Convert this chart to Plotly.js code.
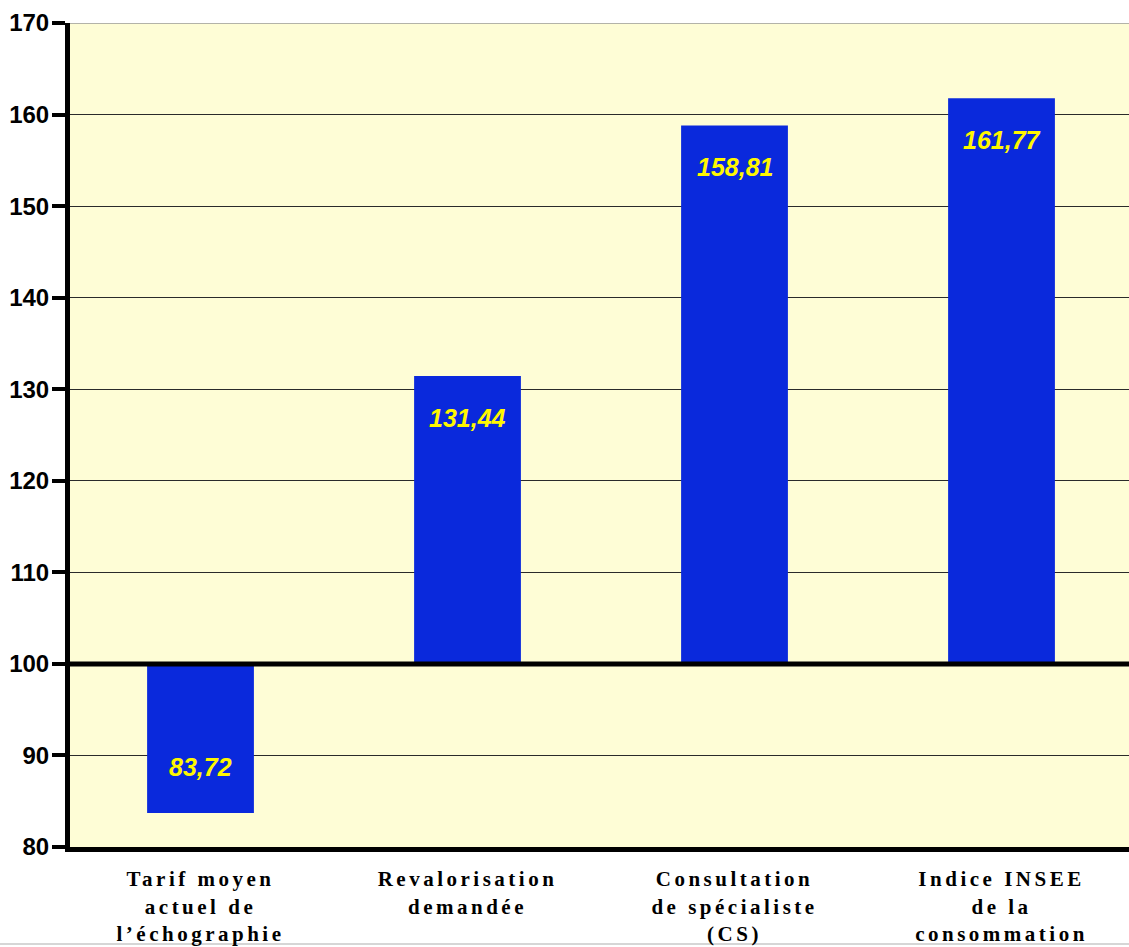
<!DOCTYPE html>
<html>
<head>
<meta charset="utf-8">
<script src="https://cdn.plot.ly/plotly-3.0.1.min.js"></script>
<style>
  html, body { margin: 0; padding: 0; background: #ffffff; }
  #chart { width: 1129px; height: 947px; }
  /* spaced-out serif category labels */
  .xtick text { letter-spacing: 3.5px; }
</style>
</head>
<body>
<div id="chart"></div>
<script>
// Category labels (three lines each) and index values, base 100
const categories = [
  "Tarif moyen<br>actuel de<br>l’échographie",
  "Revalorisation<br>demandée",
  "Consultation<br>de spécialiste<br>(CS)",
  "Indice INSEE<br>de la<br>consommation"
];
const values = [83.72, 131.44, 158.81, 161.77];
const baseline = 100;
const yTicks = [80, 90, 100, 110, 120, 130, 140, 150, 160, 170];

const xIdx = categories.map((_, i) => i);
const fmt = v => v.toFixed(2).replace(".", ",");

const bars = {
  type: "bar",
  x: xIdx,
  y: values.map(v => v - baseline),
  base: values.map(() => baseline),
  width: 0.4,
  marker: { color: "#0A29DC", line: { width: 0 } },
  hoverinfo: "skip"
};

// value labels sit inside each bar, near its free end
const labels = values.map((v, i) => ({
  x: i, y: v, xref: "x", yref: "y",
  text: fmt(v),
  showarrow: false,
  yshift: v >= baseline ? -42 : 46,
  font: { family: "Liberation Sans, Arial, sans-serif", size: 25, color: "#FFF700", weight: "bold", style: "italic" }
}));

const layout = {
  width: 1129, height: 947,
  margin: { l: 70, r: 0, t: 23, b: 100, pad: 0 },
  paper_bgcolor: "#ffffff",
  plot_bgcolor: "#FEFDD6",
  showlegend: false,
  bargap: 0.6,
  xaxis: {
    range: [-0.4888, 3.4775],
    tickmode: "array",
    tickvals: xIdx,
    ticktext: categories,
    ticks: "",
    showgrid: false,
    zeroline: false,
    showline: true, linecolor: "#000000", linewidth: 5,
    tickfont: { family: "Liberation Serif, Times New Roman, serif", size: 21, color: "#000000", weight: "bold" },
    ticklabelstandoff: 9,
    fixedrange: true
  },
  yaxis: {
    range: [80, 170],
    tickmode: "array",
    tickvals: yTicks,
    ticktext: yTicks.map(String),
    ticks: "outside", ticklen: 13, tickwidth: 4, tickcolor: "#000000",
    showgrid: true, gridcolor: "#2a2a2a", gridwidth: 1,
    zeroline: false,
    showline: true, linecolor: "#000000", linewidth: 5,
    tickfont: { family: "Liberation Sans, Arial, sans-serif", size: 24, color: "#000000", weight: "bold" },
    ticklabelstandoff: -2,
    fixedrange: true
  },
  shapes: [
    // heavy reference line at index 100
    { type: "line", xref: "paper", yref: "y", x0: 0, x1: 1, y0: baseline, y1: baseline,
      line: { color: "#000000", width: 5 }, layer: "above" },
    // lighter top border at 170
    { type: "line", xref: "paper", yref: "y", x0: 0, x1: 1, y0: 170, y1: 170,
      line: { color: "#9a9a9a", width: 1.5 }, layer: "above" },
    // thin grey rule along the foot of the figure
    { type: "line", xref: "paper", yref: "paper", x0: -0.07, x1: 1, y0: -0.1177, y1: -0.1177,
      line: { color: "#c8c8c8", width: 1.5 }, layer: "below" }
  ],
  annotations: labels
};

Plotly.newPlot("chart", [bars], layout, { staticPlot: true, displayModeBar: false });
</script>
</body>
</html>
